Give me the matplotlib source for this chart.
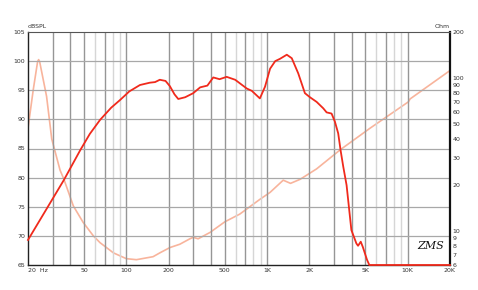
import matplotlib
matplotlib.use("Agg")
import matplotlib.pyplot as plt

# SPL response (red)
spl_freq = [20, 36, 47, 55, 65, 78, 90, 105, 125, 147, 160, 173, 190, 204, 220, 234, 262,
            299, 335, 377, 415, 460, 517, 594, 718, 780, 890, 968, 1052, 1144, 1238, 1383,
            1500, 1668, 1860, 2020, 2254, 2512, 2654, 2878, 3040, 3208, 3336, 3484, 3680,
            3980, 4320, 4440, 4640, 4800, 5140, 5340, 20000]
spl_db = [69.3, 79.6, 84.7, 87.5, 89.9, 92.0, 93.3, 94.8, 95.9, 96.3, 96.4, 96.8, 96.6,
          95.7, 94.3, 93.5, 93.8, 94.5, 95.5, 95.8, 97.2, 96.9, 97.3, 96.8, 95.3, 94.9,
          93.6, 95.6, 98.7, 100.0, 100.4, 101.1, 100.5, 97.9, 94.5, 93.8, 93.0, 91.9,
          91.2, 91.0, 89.6, 87.6, 84.7, 81.9, 78.7, 71.0, 68.7, 68.3, 69.0, 68.1, 65.9,
          65.0, 65.0]

# impedance (salmon), right axis in Ohm
imp_freq = [20, 21.8, 23.4, 23.8, 24.2, 27.1, 29.5, 33.8, 36, 42, 49.3, 58.3, 65, 81, 100,
            118, 155, 173, 204, 240, 283, 299, 324, 394, 502, 640, 889, 1052, 1304, 1470,
            1722, 2254, 3320, 5400, 10140, 10400, 20000]
imp_ohm = [47, 84, 128, 132, 128, 76, 40, 25, 21.8, 14.6, 11.4, 9.3, 8.4, 7.2, 6.6, 6.5,
           6.8, 7.2, 7.8, 8.2, 8.9, 9.1, 8.9, 9.8, 11.5, 12.9, 16.1, 17.9, 21.5, 20.5,
           21.8, 25.5, 34, 47, 70, 73, 112]

x_ticks = [20, 50, 100, 200, 500, 1000, 2000, 5000, 10000, 20000]
x_labels = ["20  Hz", "50", "100", "200", "500", "1K", "2K", "5K", "10K", "20K"]
db_ticks = [65, 70, 75, 80, 85, 90, 95, 100, 105]
ohm_ticks = [6, 7, 8, 9, 10, 20, 30, 40, 50, 60, 70, 80, 90, 100, 200]

fig = plt.figure(figsize=(4.78, 2.90), dpi=100)
ax = fig.add_axes([28 / 478, 25 / 290, 422 / 478, 233 / 290])
ax.set_xscale("log")
ax.set_xlim(20, 20000)
ax.set_ylim(65, 105)

# vertical grid, alternating shades like the original
for dec in [10, 100, 1000]:
    for m in range(2, 11):
        f = m * dec
        if f <= 20 or f >= 20000:
            continue
        col = "#d6d6d6" if m in (6, 8, 9) else "#969696"
        ax.axvline(f, color=col, lw=1.0, zorder=0)
for d in db_ticks[1:-1]:
    ax.axhline(d, color="#a8a8a8", lw=0.9, zorder=0)

ax.set_xticks(x_ticks)
ax.set_xticklabels(x_labels)
ax.minorticks_off()
ax.get_xticklabels()[0].set_ha("left")
ax.set_yticks(db_ticks)
ax.set_yticklabels([str(d) for d in db_ticks])
ax.tick_params(axis="both", length=0, labelsize=4.5, colors="#333333", pad=2)

for s in ["left", "bottom"]:
    ax.spines[s].set_color("#222222")
    ax.spines[s].set_linewidth(1.0)
ax.spines["top"].set_color("#555555")
ax.spines["right"].set_color("#111111")
ax.spines["right"].set_linewidth(1.6)

ax2 = ax.twinx()
ax2.set_yscale("log")
ax2.set_ylim(6, 200)
ax2.set_yticks(ohm_ticks)
ax2.set_yticklabels([str(o) for o in ohm_ticks])
ax2.minorticks_off()
ax2.tick_params(axis="y", length=0, labelsize=4.5, colors="#333333", pad=2)
for s in ax2.spines.values():
    s.set_visible(False)

ax2.plot(imp_freq, imp_ohm, color="#f8b49c", lw=1.2, zorder=3)
ax.plot(spl_freq, spl_db, color="#f02a1c", lw=1.3, zorder=4, clip_on=False)
ax.set_zorder(ax2.get_zorder() + 1)
ax.patch.set_visible(False)

ax.text(0.0, 1.012, "dBSPL", transform=ax.transAxes, fontsize=4.5, color="#333333",
        ha="left", va="bottom")
ax.text(1.0, 1.012, "Ohm", transform=ax.transAxes, fontsize=4.5, color="#333333",
        ha="right", va="bottom")
ax.text(0.985, 0.06, "ZMS", transform=ax.transAxes, fontsize=8, style="italic",
        family="DejaVu Serif", color="#111111", ha="right", va="bottom")

fig.savefig("out.png", dpi=100)
